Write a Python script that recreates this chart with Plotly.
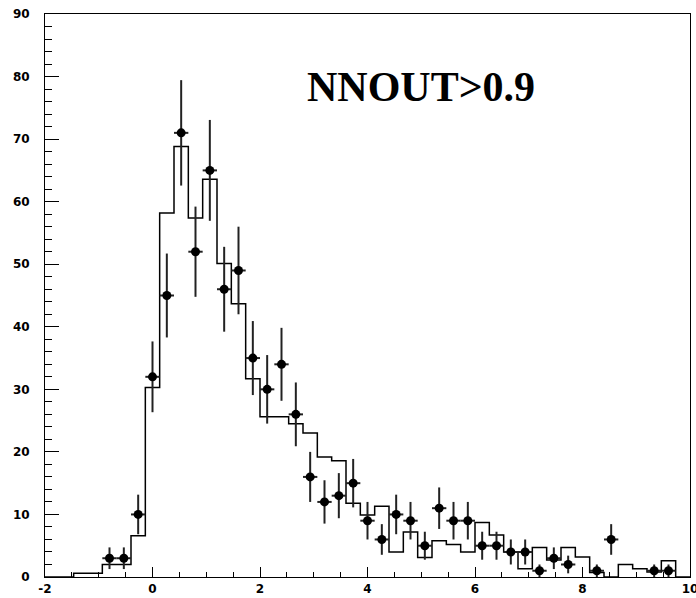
import plotly.graph_objects as go

# Binning: 45 equal bins from -2 to 10
bin_lo = -2.0
bin_hi = 10.0
n_bins = 45

# Simulation histogram (weighted) per bin
mc_values = [0.0, 0.0, 0.6, 0.6, 2.0, 2.0, 6.6, 30.3, 58.2, 68.8,
             57.4, 63.6, 50.1, 43.7, 31.7, 25.6, 25.6, 24.5, 23.0, 19.2,
             18.6, 11.8, 9.9, 11.3, 4.0, 7.2, 3.1, 5.8, 5.2, 4.0,
             8.7, 6.7, 4.0, 1.3, 4.7, 2.7, 4.7, 3.2, 0.7, 0.0,
             2.0, 1.3, 0.8, 2.6, 0.0]

# Data counts per bin
data_counts = [0, 0, 0, 0, 3, 3, 10, 32, 45, 71,
               52, 65, 46, 49, 35, 30, 34, 26, 16, 12,
               13, 15, 9, 6, 10, 9, 5, 11, 9, 9,
               5, 5, 4, 4, 1, 3, 2, 0, 1, 6,
               0, 0, 1, 1, 0]

x_tick_vals = [-2, 0, 2, 4, 6, 8, 10]
x_tick_text = ["-2", "0", "2", "4", "6", "8", "10"]
y_tick_vals = [0, 10, 20, 30, 40, 50, 60, 70, 80, 90]

label_text = "NNOUT>0.9"

width = (bin_hi - bin_lo) / n_bins
edges = [bin_lo + i * width for i in range(n_bins + 1)]
centers = [bin_lo + (i + 0.5) * width for i in range(n_bins)]

step_x = edges
step_y = mc_values + [mc_values[-1]]

pts_x = [c for c, n in zip(centers, data_counts) if n > 0]
pts_y = [n for n in data_counts if n > 0]
pts_err = [n ** 0.5 for n in pts_y]

fig = go.Figure()
fig.add_trace(go.Scatter(
    x=step_x, y=step_y, mode="lines", line=dict(shape="hv", color="black", width=1.5),
    showlegend=False, hoverinfo="skip"))
fig.add_trace(go.Scatter(
    x=pts_x, y=pts_y, mode="markers",
    marker=dict(symbol="circle", size=9, color="black"),
    error_y=dict(type="data", array=pts_err, visible=True, width=0, thickness=2, color="#222222"),
    error_x=dict(type="constant", value=width / 2, visible=True, width=0, thickness=2, color="#222222"),
    showlegend=False))

tickfont = dict(family="DejaVu Sans", size=12, color="black", weight="bold")
fig.update_xaxes(range=[bin_lo, bin_hi], tickmode="array", tickvals=x_tick_vals, ticktext=x_tick_text,
                 ticks="inside", ticklen=10, tickwidth=1, tickcolor="black",
                 minor=dict(dtick=0.5, tick0=-2, ticks="inside", ticklen=5, tickwidth=1, tickcolor="black"),
                 showline=True, linecolor="black", linewidth=1, mirror=True, automargin=False,
                 ticklabeloverflow="allow",
                 showgrid=False, zeroline=False, tickfont=tickfont, ticklabelstandoff=1)
fig.update_yaxes(range=[0, 90], tickmode="array", tickvals=y_tick_vals,
                 ticks="inside", ticklen=14, tickwidth=1, tickcolor="black",
                 minor=dict(dtick=2, tick0=0, ticks="inside", ticklen=7, tickwidth=1, tickcolor="black"),
                 showline=True, linecolor="black", linewidth=1, mirror=True, automargin=False,
                 ticklabeloverflow="allow",
                 showgrid=False, zeroline=False, tickfont=tickfont, ticklabelstandoff=12)

fig.add_annotation(x=5.0, y=78.3, xref="x", yref="y", text=label_text, showarrow=False,
                   font=dict(family="Liberation Serif", size=42, color="black", weight="bold"),
                   xanchor="center", yanchor="middle")

fig.update_layout(width=696, height=598, margin=dict(l=45, r=6, t=14, b=21),
                  plot_bgcolor="white", paper_bgcolor="white")
fig.write_html("out.html", config={"displayModeBar": False},
               post_script="document.body.style.margin='0';document.body.style.overflow='hidden';")
